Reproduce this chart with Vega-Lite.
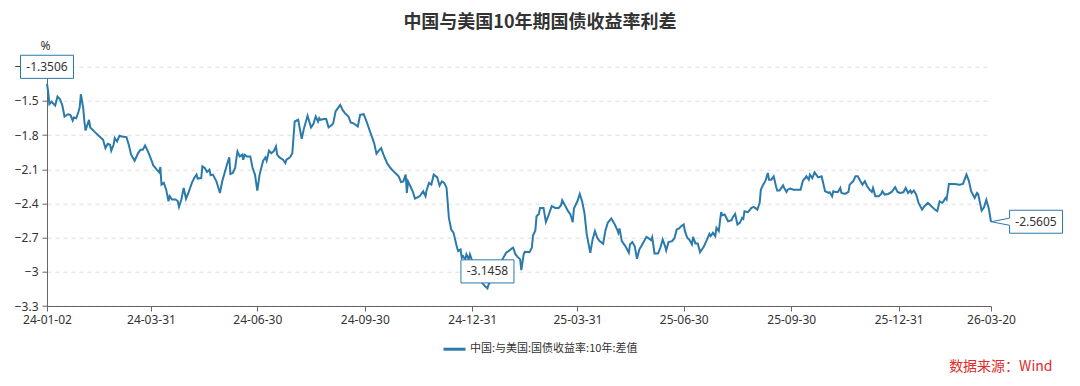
{
  "$schema": "https://vega.github.io/schema/vega-lite/v6.json",
  "width": 944,
  "height": 239.3,
  "autosize": {"type": "none"},
  "padding": {"left": 47, "top": 66.7, "right": 89, "bottom": 80},
  "background": "white",
  "title": {
    "text": "中国与美国10年期国债收益率利差",
    "anchor": "middle",
    "frame": "group",
    "dx": 21,
    "fontSize": 18,
    "fontWeight": "bold",
    "color": "#333333",
    "font": "Noto Sans CJK SC",
    "offset": 8
  },
  "datasets": {
    "series": [
      {"d":"2024-01-02","v":-1.3506},{"d":"2024-01-03","v":-1.418},{"d":"2024-01-04","v":-1.529},{"d":"2024-01-06","v":-1.506},{"d":"2024-01-07","v":-1.520},{"d":"2024-01-09","v":-1.541},{"d":"2024-01-11","v":-1.462},{"d":"2024-01-13","v":-1.483},{"d":"2024-01-15","v":-1.535},{"d":"2024-01-17","v":-1.637},{"d":"2024-01-20","v":-1.617},{"d":"2024-01-22","v":-1.622},{"d":"2024-01-24","v":-1.672},{"d":"2024-01-25","v":-1.646},{"d":"2024-01-27","v":-1.652},{"d":"2024-01-29","v":-1.593},{"d":"2024-01-30","v":-1.555},{"d":"2024-01-31","v":-1.442},
      {"d":"2024-02-02","v":-1.564},{"d":"2024-02-03","v":-1.681},{"d":"2024-02-04","v":-1.760},{"d":"2024-02-06","v":-1.695},{"d":"2024-02-07","v":-1.666},{"d":"2024-02-08","v":-1.733},{"d":"2024-02-12","v":-1.774},{"d":"2024-02-16","v":-1.812},{"d":"2024-02-19","v":-1.841},{"d":"2024-02-21","v":-1.914},{"d":"2024-02-23","v":-1.876},{"d":"2024-02-25","v":-1.885},{"d":"2024-02-26","v":-1.937},{"d":"2024-02-28","v":-1.885},{"d":"2024-02-29","v":-1.827},
      {"d":"2024-03-02","v":-1.856},{"d":"2024-03-04","v":-1.806},{"d":"2024-03-06","v":-1.812},{"d":"2024-03-10","v":-1.818},{"d":"2024-03-12","v":-1.885},{"d":"2024-03-14","v":-1.972},{"d":"2024-03-17","v":-2.025},{"d":"2024-03-20","v":-1.958},{"d":"2024-03-22","v":-1.929},{"d":"2024-03-24","v":-1.929},{"d":"2024-03-26","v":-1.891},{"d":"2024-03-29","v":-1.958},
      {"d":"2024-04-01","v":-2.037},{"d":"2024-04-02","v":-2.066},{"d":"2024-04-05","v":-2.104},{"d":"2024-04-07","v":-2.127},{"d":"2024-04-08","v":-2.080},{"d":"2024-04-09","v":-2.235},{"d":"2024-04-11","v":-2.220},{"d":"2024-04-13","v":-2.279},{"d":"2024-04-15","v":-2.381},{"d":"2024-04-16","v":-2.337},{"d":"2024-04-18","v":-2.366},{"d":"2024-04-21","v":-2.366},{"d":"2024-04-23","v":-2.381},{"d":"2024-04-24","v":-2.430},{"d":"2024-04-26","v":-2.366},{"d":"2024-04-28","v":-2.264},{"d":"2024-04-30","v":-2.360},
      {"d":"2024-05-02","v":-2.308},{"d":"2024-05-05","v":-2.220},{"d":"2024-05-07","v":-2.177},{"d":"2024-05-09","v":-2.147},{"d":"2024-05-10","v":-2.182},{"d":"2024-05-13","v":-2.177},{"d":"2024-05-14","v":-2.074},{"d":"2024-05-16","v":-2.089},{"d":"2024-05-18","v":-2.124},{"d":"2024-05-20","v":-2.104},{"d":"2024-05-21","v":-2.153},{"d":"2024-05-23","v":-2.147},{"d":"2024-05-26","v":-2.206},{"d":"2024-05-29","v":-2.308},{"d":"2024-05-31","v":-2.206},
      {"d":"2024-06-02","v":-2.133},{"d":"2024-06-04","v":-2.060},{"d":"2024-06-06","v":-1.996},{"d":"2024-06-07","v":-2.142},{"d":"2024-06-09","v":-2.133},{"d":"2024-06-11","v":-2.089},{"d":"2024-06-13","v":-1.943},{"d":"2024-06-15","v":-1.987},{"d":"2024-06-17","v":-1.972},{"d":"2024-06-18","v":-2.016},{"d":"2024-06-19","v":-1.972},{"d":"2024-06-21","v":-1.987},{"d":"2024-06-24","v":-1.987},{"d":"2024-06-26","v":-2.089},{"d":"2024-06-28","v":-2.147},{"d":"2024-06-30","v":-2.287},
      {"d":"2024-07-02","v":-2.147},{"d":"2024-07-05","v":-2.025},{"d":"2024-07-07","v":-1.996},{"d":"2024-07-08","v":-2.025},{"d":"2024-07-10","v":-1.937},{"d":"2024-07-12","v":-1.958},{"d":"2024-07-14","v":-1.943},{"d":"2024-07-16","v":-1.900},{"d":"2024-07-17","v":-1.972},{"d":"2024-07-19","v":-1.996},{"d":"2024-07-22","v":-2.016},{"d":"2024-07-24","v":-2.045},{"d":"2024-07-25","v":-2.016},{"d":"2024-07-28","v":-1.996},{"d":"2024-07-30","v":-1.958},
      {"d":"2024-08-01","v":-1.681},{"d":"2024-08-04","v":-1.666},{"d":"2024-08-07","v":-1.832},{"d":"2024-08-09","v":-1.739},{"d":"2024-08-12","v":-1.631},{"d":"2024-08-15","v":-1.733},{"d":"2024-08-17","v":-1.704},{"d":"2024-08-19","v":-1.637},{"d":"2024-08-21","v":-1.681},{"d":"2024-08-22","v":-1.652},{"d":"2024-08-23","v":-1.666},{"d":"2024-08-26","v":-1.660},{"d":"2024-08-28","v":-1.660},{"d":"2024-08-30","v":-1.733},
      {"d":"2024-09-02","v":-1.710},{"d":"2024-09-03","v":-1.695},{"d":"2024-09-05","v":-1.593},{"d":"2024-09-07","v":-1.564},{"d":"2024-09-09","v":-1.535},{"d":"2024-09-11","v":-1.579},{"d":"2024-09-13","v":-1.608},{"d":"2024-09-16","v":-1.637},{"d":"2024-09-18","v":-1.690},{"d":"2024-09-20","v":-1.695},{"d":"2024-09-22","v":-1.710},{"d":"2024-09-24","v":-1.725},{"d":"2024-09-26","v":-1.622},{"d":"2024-09-29","v":-1.617},
      {"d":"2024-10-01","v":-1.666},{"d":"2024-10-03","v":-1.725},{"d":"2024-10-05","v":-1.783},{"d":"2024-10-08","v":-1.870},{"d":"2024-10-10","v":-1.964},{"d":"2024-10-12","v":-1.937},{"d":"2024-10-14","v":-1.914},{"d":"2024-10-16","v":-1.972},{"d":"2024-10-19","v":-2.045},{"d":"2024-10-22","v":-2.089},{"d":"2024-10-24","v":-2.112},{"d":"2024-10-27","v":-2.142},{"d":"2024-10-29","v":-2.162},{"d":"2024-10-31","v":-2.212},
      {"d":"2024-11-02","v":-2.206},{"d":"2024-11-04","v":-2.147},{"d":"2024-11-05","v":-2.308},{"d":"2024-11-06","v":-2.206},{"d":"2024-11-08","v":-2.249},{"d":"2024-11-10","v":-2.293},{"d":"2024-11-12","v":-2.357},{"d":"2024-11-16","v":-2.337},{"d":"2024-11-19","v":-2.293},{"d":"2024-11-21","v":-2.337},{"d":"2024-11-22","v":-2.279},{"d":"2024-11-24","v":-2.220},{"d":"2024-11-26","v":-2.235},{"d":"2024-11-28","v":-2.147},
      {"d":"2024-12-01","v":-2.171},{"d":"2024-12-03","v":-2.244},{"d":"2024-12-05","v":-2.206},{"d":"2024-12-07","v":-2.220},{"d":"2024-12-09","v":-2.264},{"d":"2024-12-10","v":-2.395},{"d":"2024-12-11","v":-2.527},{"d":"2024-12-13","v":-2.629},{"d":"2024-12-15","v":-2.658},{"d":"2024-12-16","v":-2.702},{"d":"2024-12-18","v":-2.789},{"d":"2024-12-19","v":-2.818},{"d":"2024-12-21","v":-2.804},{"d":"2024-12-22","v":-2.877},{"d":"2024-12-23","v":-2.862},{"d":"2024-12-25","v":-2.891},{"d":"2024-12-26","v":-2.847},{"d":"2024-12-28","v":-2.891},{"d":"2024-12-29","v":-2.847},{"d":"2024-12-31","v":-2.906},
      {"d":"2025-01-02","v":-2.961},{"d":"2025-01-06","v":-3.031},{"d":"2025-01-08","v":-3.092},{"d":"2025-01-11","v":-3.127},{"d":"2025-01-13","v":-3.1458},{"d":"2025-01-14","v":-3.110},{"d":"2025-01-17","v":-3.066},{"d":"2025-01-20","v":-2.996},{"d":"2025-01-25","v":-2.906},{"d":"2025-01-29","v":-2.833},
      {"d":"2025-02-03","v":-2.795},{"d":"2025-02-04","v":-2.789},{"d":"2025-02-06","v":-2.847},{"d":"2025-02-08","v":-2.871},{"d":"2025-02-10","v":-2.891},{"d":"2025-02-11","v":-2.985},{"d":"2025-02-13","v":-2.847},{"d":"2025-02-14","v":-2.824},{"d":"2025-02-18","v":-2.827},{"d":"2025-02-20","v":-2.789},{"d":"2025-02-21","v":-2.681},{"d":"2025-02-23","v":-2.637},{"d":"2025-02-24","v":-2.512},{"d":"2025-02-26","v":-2.492},{"d":"2025-02-27","v":-2.439},
      {"d":"2025-03-02","v":-2.439},{"d":"2025-03-04","v":-2.564},{"d":"2025-03-06","v":-2.512},{"d":"2025-03-09","v":-2.424},{"d":"2025-03-12","v":-2.439},{"d":"2025-03-15","v":-2.439},{"d":"2025-03-17","v":-2.416},{"d":"2025-03-18","v":-2.372},{"d":"2025-03-20","v":-2.410},{"d":"2025-03-23","v":-2.468},{"d":"2025-03-25","v":-2.497},{"d":"2025-03-27","v":-2.564},{"d":"2025-03-28","v":-2.445},{"d":"2025-03-31","v":-2.381},
      {"d":"2025-04-02","v":-2.317},{"d":"2025-04-04","v":-2.381},{"d":"2025-04-06","v":-2.483},{"d":"2025-04-08","v":-2.672},{"d":"2025-04-11","v":-2.833},{"d":"2025-04-13","v":-2.716},{"d":"2025-04-15","v":-2.643},{"d":"2025-04-17","v":-2.702},{"d":"2025-04-19","v":-2.731},{"d":"2025-04-22","v":-2.754},{"d":"2025-04-24","v":-2.637},{"d":"2025-04-26","v":-2.570},{"d":"2025-04-29","v":-2.532},
      {"d":"2025-05-02","v":-2.585},{"d":"2025-05-04","v":-2.629},{"d":"2025-05-05","v":-2.658},{"d":"2025-05-06","v":-2.620},{"d":"2025-05-08","v":-2.731},{"d":"2025-05-11","v":-2.774},{"d":"2025-05-14","v":-2.833},{"d":"2025-05-15","v":-2.760},{"d":"2025-05-17","v":-2.739},{"d":"2025-05-19","v":-2.774},{"d":"2025-05-21","v":-2.885},{"d":"2025-05-23","v":-2.804},{"d":"2025-05-25","v":-2.769},{"d":"2025-05-27","v":-2.731},{"d":"2025-05-29","v":-2.693},{"d":"2025-05-31","v":-2.707},
      {"d":"2025-06-02","v":-2.722},{"d":"2025-06-03","v":-2.696},{"d":"2025-06-05","v":-2.839},{"d":"2025-06-08","v":-2.839},{"d":"2025-06-10","v":-2.789},{"d":"2025-06-12","v":-2.716},{"d":"2025-06-14","v":-2.774},{"d":"2025-06-15","v":-2.812},{"d":"2025-06-17","v":-2.739},{"d":"2025-06-20","v":-2.731},{"d":"2025-06-22","v":-2.707},{"d":"2025-06-24","v":-2.629},{"d":"2025-06-26","v":-2.620},{"d":"2025-06-28","v":-2.599},{"d":"2025-06-30","v":-2.585},
      {"d":"2025-07-01","v":-2.643},{"d":"2025-07-03","v":-2.701},{"d":"2025-07-05","v":-2.722},{"d":"2025-07-07","v":-2.760},{"d":"2025-07-08","v":-2.693},{"d":"2025-07-10","v":-2.751},{"d":"2025-07-12","v":-2.751},{"d":"2025-07-14","v":-2.827},{"d":"2025-07-17","v":-2.783},{"d":"2025-07-20","v":-2.716},{"d":"2025-07-22","v":-2.667},{"d":"2025-07-23","v":-2.687},{"d":"2025-07-25","v":-2.658},{"d":"2025-07-27","v":-2.687},{"d":"2025-07-28","v":-2.614},{"d":"2025-07-30","v":-2.643},
      {"d":"2025-08-01","v":-2.477},{"d":"2025-08-02","v":-2.503},{"d":"2025-08-04","v":-2.497},{"d":"2025-08-07","v":-2.556},{"d":"2025-08-10","v":-2.547},{"d":"2025-08-11","v":-2.521},{"d":"2025-08-13","v":-2.492},{"d":"2025-08-15","v":-2.585},{"d":"2025-08-17","v":-2.570},{"d":"2025-08-19","v":-2.527},{"d":"2025-08-20","v":-2.535},{"d":"2025-08-21","v":-2.468},{"d":"2025-08-24","v":-2.477},{"d":"2025-08-27","v":-2.439},{"d":"2025-08-29","v":-2.430},
      {"d":"2025-09-01","v":-2.454},{"d":"2025-09-03","v":-2.395},{"d":"2025-09-04","v":-2.279},{"d":"2025-09-06","v":-2.235},{"d":"2025-09-08","v":-2.200},{"d":"2025-09-10","v":-2.133},{"d":"2025-09-11","v":-2.191},{"d":"2025-09-13","v":-2.191},{"d":"2025-09-15","v":-2.162},{"d":"2025-09-17","v":-2.249},{"d":"2025-09-18","v":-2.287},{"d":"2025-09-20","v":-2.287},{"d":"2025-09-23","v":-2.241},{"d":"2025-09-24","v":-2.264},{"d":"2025-09-26","v":-2.299},{"d":"2025-09-27","v":-2.279},{"d":"2025-09-29","v":-2.270},
      {"d":"2025-10-02","v":-2.279},{"d":"2025-10-05","v":-2.279},{"d":"2025-10-08","v":-2.279},{"d":"2025-10-10","v":-2.200},{"d":"2025-10-12","v":-2.177},{"d":"2025-10-13","v":-2.162},{"d":"2025-10-15","v":-2.191},{"d":"2025-10-16","v":-2.147},{"d":"2025-10-18","v":-2.177},{"d":"2025-10-20","v":-2.127},{"d":"2025-10-23","v":-2.171},{"d":"2025-10-26","v":-2.162},{"d":"2025-10-27","v":-2.206},{"d":"2025-10-29","v":-2.293},
      {"d":"2025-11-01","v":-2.308},{"d":"2025-11-02","v":-2.302},{"d":"2025-11-04","v":-2.337},{"d":"2025-11-05","v":-2.293},{"d":"2025-11-07","v":-2.299},{"d":"2025-11-09","v":-2.299},{"d":"2025-11-11","v":-2.264},{"d":"2025-11-12","v":-2.308},{"d":"2025-11-15","v":-2.317},{"d":"2025-11-18","v":-2.299},{"d":"2025-11-19","v":-2.235},{"d":"2025-11-22","v":-2.206},{"d":"2025-11-24","v":-2.162},{"d":"2025-11-26","v":-2.162},{"d":"2025-11-28","v":-2.200},{"d":"2025-11-30","v":-2.235},
      {"d":"2025-12-02","v":-2.206},{"d":"2025-12-04","v":-2.249},{"d":"2025-12-06","v":-2.279},{"d":"2025-12-08","v":-2.299},{"d":"2025-12-09","v":-2.264},{"d":"2025-12-11","v":-2.337},{"d":"2025-12-14","v":-2.337},{"d":"2025-12-16","v":-2.317},{"d":"2025-12-17","v":-2.293},{"d":"2025-12-19","v":-2.322},{"d":"2025-12-22","v":-2.317},{"d":"2025-12-25","v":-2.299},{"d":"2025-12-28","v":-2.258},{"d":"2025-12-30","v":-2.299},
      {"d":"2026-01-01","v":-2.308},{"d":"2026-01-04","v":-2.302},{"d":"2026-01-06","v":-2.264},{"d":"2026-01-08","v":-2.308},{"d":"2026-01-10","v":-2.287},{"d":"2026-01-11","v":-2.308},{"d":"2026-01-13","v":-2.287},{"d":"2026-01-15","v":-2.322},{"d":"2026-01-17","v":-2.395},{"d":"2026-01-20","v":-2.454},{"d":"2026-01-22","v":-2.424},{"d":"2026-01-25","v":-2.395},{"d":"2026-01-28","v":-2.424},{"d":"2026-01-31","v":-2.454},
      {"d":"2026-02-02","v":-2.468},{"d":"2026-02-04","v":-2.381},{"d":"2026-02-06","v":-2.395},{"d":"2026-02-07","v":-2.387},{"d":"2026-02-09","v":-2.352},{"d":"2026-02-10","v":-2.366},{"d":"2026-02-12","v":-2.229},{"d":"2026-02-17","v":-2.229},{"d":"2026-02-21","v":-2.235},{"d":"2026-02-24","v":-2.229},{"d":"2026-02-27","v":-2.147},
      {"d":"2026-03-01","v":-2.200},{"d":"2026-03-03","v":-2.293},{"d":"2026-03-06","v":-2.352},{"d":"2026-03-08","v":-2.308},{"d":"2026-03-09","v":-2.317},{"d":"2026-03-12","v":-2.462},{"d":"2026-03-14","v":-2.433},{"d":"2026-03-16","v":-2.369},{"d":"2026-03-18","v":-2.439},{"d":"2026-03-20","v":-2.5605}
    ],
    "annTop": [
      {"d":"2024-01-02","v":-1.3506,"label":"-1.3506"},
      {"d":"2025-01-13","v":-3.1458,"label":"-3.1458"}
    ],
    "annRight": [
      {"d":"2026-03-20","v":-2.5605,"label":"-2.5605"}
    ]
  },
  "encoding": {
    "x": {
      "field": "d",
      "type": "temporal",
      "scale": {
        "type": "utc",
        "domain": [
          {"year": 2024, "month": 1, "date": 2, "utc": true},
          {"year": 2026, "month": 3, "date": 20, "utc": true}
        ]
      },
      "axis": {
        "values": [
          {"year": 2024, "month": 1, "date": 2, "utc": true},
          {"year": 2024, "month": 3, "date": 31, "utc": true},
          {"year": 2024, "month": 6, "date": 30, "utc": true},
          {"year": 2024, "month": 9, "date": 30, "utc": true},
          {"year": 2024, "month": 12, "date": 31, "utc": true},
          {"year": 2025, "month": 3, "date": 31, "utc": true},
          {"year": 2025, "month": 6, "date": 30, "utc": true},
          {"year": 2025, "month": 9, "date": 30, "utc": true},
          {"year": 2025, "month": 12, "date": 31, "utc": true},
          {"year": 2026, "month": 3, "date": 20, "utc": true}
        ],
        "format": "%y-%m-%d",
        "grid": false,
        "tickSize": 5,
        "labelPadding": 3,
        "labelFontSize": 12,
        "labelColor": "#333333",
        "domainColor": "#666666",
        "tickColor": "#666666",
        "labelOverlap": false,
        "labelFlush": false,
        "labelBound": false,
        "title": "数据来源：Wind",
        "titleX": 1005,
        "titleY": 60,
        "titleAlign": "right",
        "titleBaseline": "middle",
        "titleColor": "#E02B2B",
        "titleFontSize": 14,
        "titleFontWeight": "normal",
        "titleFont": "Noto Sans CJK SC"
      }
    },
    "y": {
      "field": "v",
      "type": "quantitative",
      "scale": {"domain": [-3.3, -1.2], "nice": false, "zero": false},
      "axis": {
        "values": [-3.3, -3, -2.7, -2.4, -2.1, -1.8, -1.5, -1.2],
        "format": ".2~f",
        "title": "%",
        "titleAngle": 0,
        "titleX": -2,
        "titleY": -17,
        "titleAlign": "center",
        "titleBaseline": "alphabetic",
        "titleFontSize": 12,
        "titleFontWeight": "normal",
        "titleColor": "#333333",
        "grid": true,
        "gridDash": [4, 4],
        "gridColor": "#dddddd",
        "tickSize": 5,
        "labelPadding": 4,
        "labelFontSize": 12,
        "labelColor": "#333333",
        "domainColor": "#666666",
        "tickColor": "#666666"
      }
    }
  },
  "layer": [
    {
      "data": {"name": "series"},
      "mark": {"type": "line", "strokeWidth": 2},
      "encoding": {
        "color": {
          "datum": "中国:与美国:国债收益率:10年:差值",
          "type": "nominal",
          "scale": {"range": ["#2A7AAB"]},
          "legend": {
            "orient": "none",
            "legendX": 395,
            "legendY": 270,
            "title": null,
            "padding": 0,
            "symbolType": "stroke",
            "symbolSize": 484,
            "symbolStrokeWidth": 3,
            "labelFontSize": 11,
            "labelColor": "#333333",
            "labelOffset": 3,
            "labelLimit": 0,
            "labelFont": "Noto Sans CJK SC"
          }
        }
      }
    },
    {
      "data": {"name": "annTop"},
      "mark": {
        "type": "point",
        "shape": "M-0.964,-1.04H0.964V-0.2H-0.964Z",
        "size": 3025,
        "filled": true,
        "fill": "white",
        "stroke": "#2A7AAB",
        "strokeWidth": 1,
        "opacity": 1
      }
    },
    {
      "data": {"name": "annTop"},
      "mark": {"type": "text", "dy": -17, "align": "center", "baseline": "middle", "fontSize": 12, "color": "#333333"},
      "encoding": {"text": {"field": "label"}}
    },
    {
      "data": {"name": "annRight"},
      "mark": {
        "type": "point",
        "shape": "M0,0L0.676,-0.13V-0.418H2.6V0.418H0.676V0.13Z",
        "size": 3025,
        "filled": true,
        "fill": "white",
        "stroke": "#2A7AAB",
        "strokeWidth": 1,
        "opacity": 1
      }
    },
    {
      "data": {"name": "annRight"},
      "mark": {"type": "text", "dx": 45, "align": "center", "baseline": "middle", "fontSize": 12, "color": "#333333"},
      "encoding": {"text": {"field": "label"}}
    }
  ],
  "config": {
    "view": {"stroke": null},
    "font": "Noto Sans, Noto Sans CJK SC",
    "axis": {"labelFont": "Noto Sans", "titleFont": "Noto Sans"}
  }
}
